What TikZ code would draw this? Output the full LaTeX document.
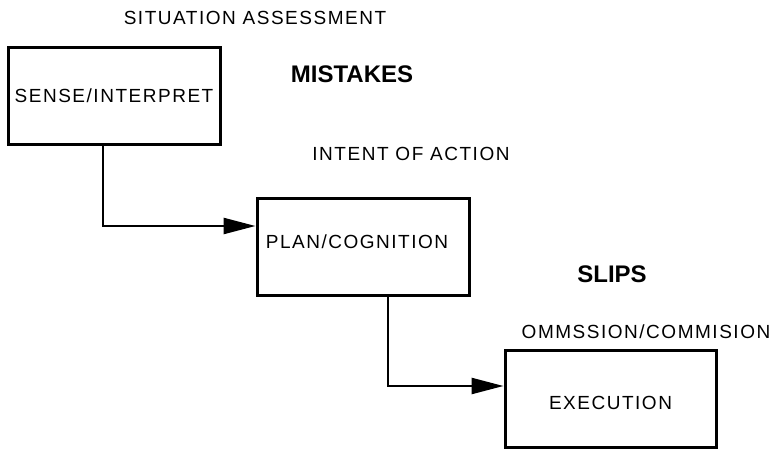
\documentclass[tikz,border=0pt]{standalone}
\usepackage{fontspec}
\setmainfont{Liberation Sans}
\newfontfamily\spaced[LetterSpace=8]{Liberation Sans}
\usetikzlibrary{arrows.meta}

\begin{document}
\begin{tikzpicture}[x=1pt,y=-1pt,
  stage/.style={draw=black, line width=3pt, fill=white, minimum width=212pt,
    minimum height=97pt, inner sep=0pt, font=\spaced\fontsize{19}{21}\selectfont},
  caption/.style={inner sep=0pt, anchor=base, font=\spaced\fontsize{19}{21}\selectfont},
  heading/.style={inner sep=0pt, anchor=base, font=\bfseries\fontsize{24}{26}\selectfont},
  flow/.style={line width=2.5pt, -{Triangle[length=32pt,width=16pt]}}]

\useasboundingbox (0,0) rectangle (772,449);

% stages
\node[stage] (sense) at (114,96) {SENSE/INTERPRET};
\node[stage, text height=13pt, text depth=11pt] (plan) at (363,247.5)
  {\hspace*{-12pt}PLAN/COGNITION};
\node[stage, minimum width=211pt, minimum height=96pt, text height=21pt, text depth=0pt]
  (exec) at (610.5,399) {EXECUTION};

% captions and headings
\node[caption] (sa)  at (255,25)  {SITUATION ASSESSMENT};
\node[heading] (mis) at (352,83)  {MISTAKES};
\node[caption] (ioa) at (411,161) {INTENT OF ACTION};
\node[heading] (sl)  at (612,283) {SLIPS};
\node[caption] (oc)  at (646,339) {OMMSSION/COMMISION};

% bend points of the connectors
\coordinate (k1) at (103,226);
\coordinate (k2) at (388,386);

\draw[flow] (sense.south -| k1) |- (plan.west |- k1);
\draw[flow] (plan.south -| k2) |- (exec.west |- k2);
\end{tikzpicture}
\end{document}
